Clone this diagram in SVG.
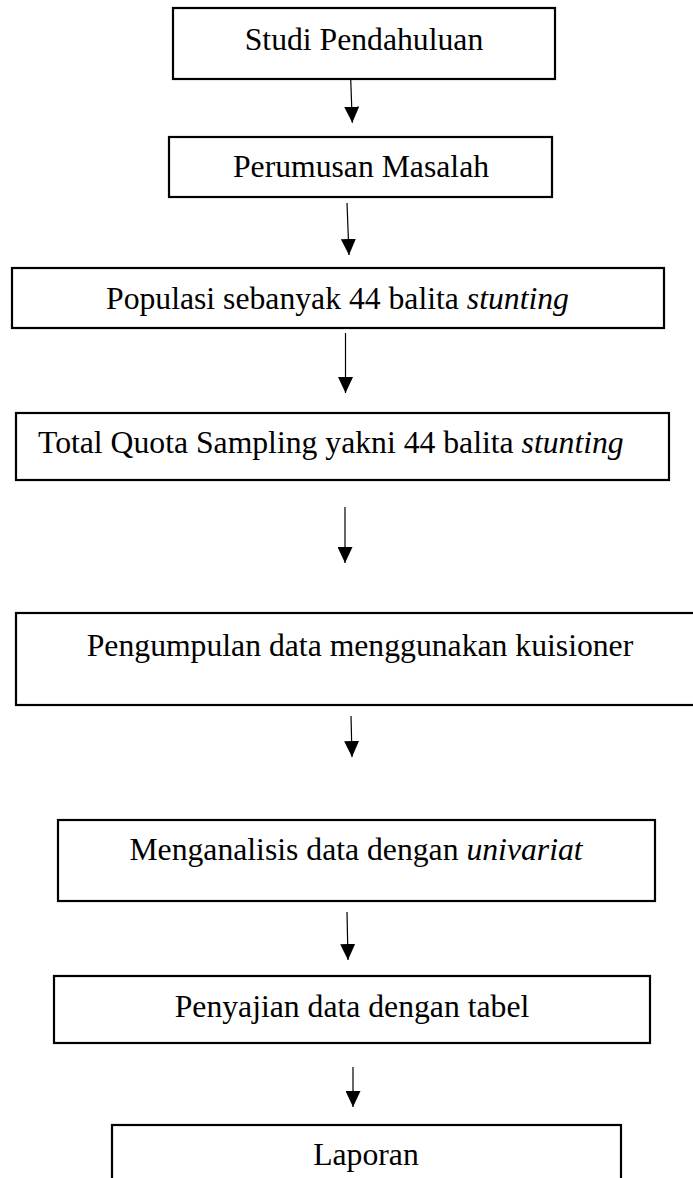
<svg xmlns="http://www.w3.org/2000/svg" width="693" height="1178" viewBox="0 0 693 1178">
  <style>
    .box { fill: #ffffff; stroke: #000000; stroke-width: 2.2; }
    .lbl { font-family: "Liberation Serif", "Times New Roman", serif; font-size: 31.7px; fill: #000000; }
    .mid { text-anchor: middle; }
    .conn { stroke: #000000; stroke-width: 1.2; fill: none; marker-end: url(#arrow); }
  </style>
  <defs>
    <marker id="arrow" markerUnits="userSpaceOnUse" markerWidth="16" markerHeight="15" refX="16" refY="7.5" orient="auto" viewBox="0 0 16 15">
      <path d="M0,0 L16,7.5 L0,15 Z" fill="#000000"/>
    </marker>
  </defs>
  <rect width="693" height="1178" fill="#ffffff"/>

  <g id="node-studi">
    <rect class="box" x="173" y="8" width="382" height="71"/>
    <text class="lbl mid" x="364" y="50">Studi Pendahuluan</text>
  </g>
  <g id="node-perumusan">
    <rect class="box" x="169" y="137" width="383" height="60"/>
    <text class="lbl mid" x="361" y="177">Perumusan Masalah</text>
  </g>
  <g id="node-populasi">
    <rect class="box" x="12" y="268" width="652" height="60"/>
    <text class="lbl mid" x="337.5" y="309">Populasi sebanyak 44 balita <tspan font-style="italic">stunting</tspan></text>
  </g>
  <g id="node-sampling">
    <rect class="box" x="16" y="413" width="653" height="67"/>
    <text class="lbl" x="38" y="453">Total Quota Sampling yakni 44 balita <tspan font-style="italic">stunting</tspan></text>
  </g>
  <g id="node-pengumpulan">
    <rect class="box" x="16" y="613" width="690" height="92"/>
    <text class="lbl mid" x="360" y="656">Pengumpulan data menggunakan kuisioner</text>
  </g>
  <g id="node-analisis">
    <rect class="box" x="58" y="820" width="597" height="81"/>
    <text class="lbl mid" x="356" y="860">Menganalisis data dengan <tspan font-style="italic">univariat</tspan></text>
  </g>
  <g id="node-penyajian">
    <rect class="box" x="54" y="976" width="596" height="67"/>
    <text class="lbl mid" x="352" y="1017">Penyajian data dengan tabel</text>
  </g>
  <g id="node-laporan">
    <rect class="box" x="112" y="1125" width="509" height="70"/>
    <text class="lbl mid" x="366" y="1165">Laporan</text>
  </g>

  <g id="connectors">
    <path class="conn" d="M350.7,79 L352.3,122.7"/>
    <path class="conn" d="M347,203 L349,255"/>
    <path class="conn" d="M345.5,333 L345.5,393"/>
    <path class="conn" d="M345,507 L345,563"/>
    <path class="conn" d="M351,716 L352,757"/>
    <path class="conn" d="M347,912 L348,960"/>
    <path class="conn" d="M353,1067 L353,1107"/>
  </g>
</svg>
